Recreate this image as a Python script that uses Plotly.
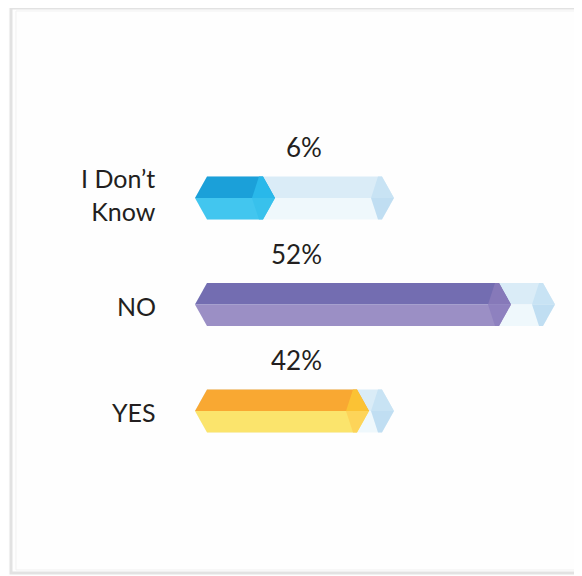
import plotly.graph_objects as go

# ---- data ----
categories = ["I Don’t<br>Know", "NO", "YES"]
percent_labels = ["6%", "52%", "42%"]
# drawn extents of the coloured bar and of its pale track (axis units, infographic scale)
fill_extent = [56, 292, 150]
track_extent = [175, 336, 175]

# ---- styles ----
top_colors = ["#1ba0d9", "#736db1", "#f9a832"]
bottom_colors = ["#42c6ef", "#9b8fc5", "#fbe46c"]
cap_top_colors = ["#29b8ea", "#8679b9", "#fbc234"]
cap_bottom_colors = ["#38c1ec", "#8e81bf", "#fdd459"]
track_top = "#daecf7"
track_bottom = "#eff8fc"
track_cap_top = "#c8e3f4"
track_cap_bottom = "#c0def2"

OFF = 8                      # page body margin of the browser
W, H = 582 - OFF, 576 - OFF  # figure size so that it fits the window
x0_px = 207 - OFF            # pixel position of the bar start
px_per_row = 106.5           # vertical spacing of rows
first_row_px = 198 - OFF
half_h = 21.5 / px_per_row
tip = 12
cap_in = 11
cap_top_in = 4

fig = go.Figure()


def poly(xs, ys, color):
    fig.add_trace(go.Scatter(x=xs + [xs[0]], y=ys + [ys[0]], mode="lines", fill="toself",
                             fillcolor=color, line=dict(width=0, color=color),
                             hoverinfo="skip", showlegend=False))


def prism(c, L, ctop, cbot, cap_t, cap_b):
    poly([-tip, 0, L, L + tip], [c, c - half_h, c - half_h, c], ctop)
    poly([-tip, 0, L, L + tip], [c, c + half_h, c + half_h, c], cbot)
    poly([L - cap_in, L - cap_top_in, L, L + tip], [c, c - half_h, c - half_h, c], cap_t)
    poly([L - cap_in, L - cap_top_in, L, L + tip], [c, c + half_h, c + half_h, c], cap_b)


annotations = []
for i, cat in enumerate(categories):
    prism(i, track_extent[i], track_top, track_bottom, track_cap_top, track_cap_bottom)
    prism(i, fill_extent[i], top_colors[i], bottom_colors[i], cap_top_colors[i], cap_bottom_colors[i])
    multiline = "<br>" in cat
    annotations.append(dict(
        x=(158 - OFF) / W, xref="paper", y=i, yref="y", text=cat, showarrow=False,
        xanchor="right", yanchor="middle", align="right", yshift=4 if multiline else -1,
        font=dict(family="Lato", size=25, color="#231f20")))
    annotations.append(dict(
        x=(324 - OFF) / W, xref="paper", y=i, yref="y", text=percent_labels[i], showarrow=False,
        xanchor="right", yanchor="middle", yshift=51,
        font=dict(family="Lato", size=26, color="#231f20")))

y_top = -first_row_px / px_per_row
y_bot = (H - first_row_px) / px_per_row

fig.update_layout(
    width=W, height=H, autosize=False,
    margin=dict(l=0, r=0, t=0, b=0, pad=0),
    paper_bgcolor="#fefefe", plot_bgcolor="#fefefe",
    xaxis=dict(range=[-x0_px, W - x0_px], visible=False, fixedrange=True),
    yaxis=dict(range=[y_bot, y_top], visible=False, fixedrange=True),
    annotations=annotations,
    shapes=[
        dict(type="rect", xref="paper", yref="paper", x0=(11 - OFF) / W, x1=(580 - OFF) / W,
             y0=1 - (573 - OFF) / H, y1=1 - (8 - OFF) / H, line=dict(color="#e2e2e2", width=3),
             layer="below"),
        dict(type="rect", xref="paper", yref="paper", x0=(16 - OFF) / W, x1=(577 - OFF) / W,
             y0=1 - (570 - OFF) / H, y1=1 - (11 - OFF) / H, line=dict(color="#f1f1f1", width=1),
             layer="below"),
    ],
)

fig.write_html("out.html", config={"displayModeBar": False})
